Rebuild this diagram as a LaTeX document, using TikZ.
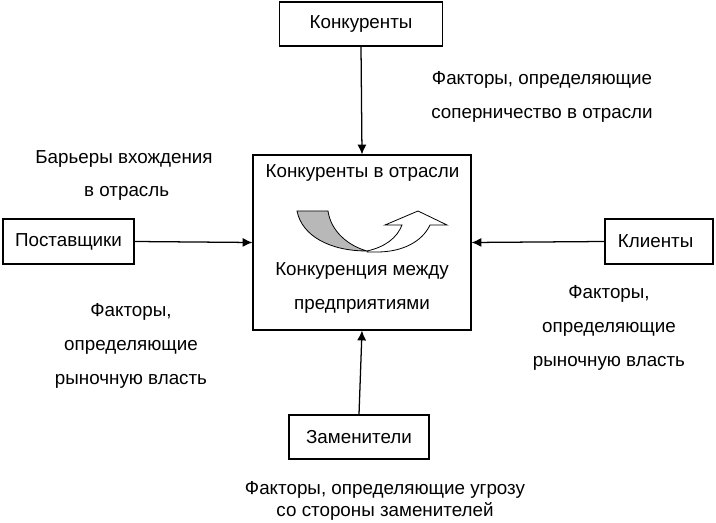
\documentclass[tikz,border=0pt]{standalone}
\usepackage{fontspec}
\setmainfont{Liberation Sans}
\usepackage{xcolor}
\usetikzlibrary{
  positioning,
  arrows.meta
}
\definecolor{swoopgray}{gray}{0.72}
\tikzset{
  >=Latex,
  flowarrow/.style={-{Latex[length=2.6mm,width=2.4mm]},line width=0.95pt},
  force/.style={rectangle,draw,line width=0.8pt,fill=white,align=center,inner sep=0pt},
  note/.style={align=center,inner sep=0pt,font=\fontsize{14.1}{25.2}\selectfont},
  noteclose/.style={align=center,inner sep=0pt,font=\fontsize{14.1}{16}\selectfont},
  swoop/.style={draw,line width=0.6pt,line join=miter}
}
\begin{document}
\begin{tikzpicture}[x=0.75pt,y=-0.75pt,font=\fontsize{14.1}{17}\selectfont]
    \useasboundingbox (0,0) rectangle (716,523);

    \node[force,minimum width=122.25pt,minimum height=33pt] (rivals) at (361,24) {Конкуренты};
    \node[force,minimum width=163.5pt,minimum height=131.25pt] (industry) at (362,242.5) {};
    \node[force,minimum width=98.25pt,minimum height=33.75pt] (suppliers) at (68.5,241.5) {Поставщики};
    \node[force,minimum width=81pt,minimum height=33.75pt] (clients) at (659,241.5) {Клиенты\hspace*{5pt}};
    \node[force,minimum width=105pt,minimum height=33pt] (substitutes) at (359,437) {Заменители};

    \draw[flowarrow] (rivals.south) -- (industry.north);
    \draw[flowarrow] (suppliers.east) -- (industry.west);
    \draw[flowarrow] (clients.west) -- (industry.east);
    \draw[flowarrow] (substitutes.north) -- (industry.south);

    % curved arrow inside the central box
    \draw[swoop,fill=swoopgray] (297,211) -- (328,211)
        .. controls (331,232) and (349,246) .. (367,251)
        .. controls (330,251) and (302,236) .. (297,211) -- cycle;
    \draw[swoop,fill=white] (367,251)
        .. controls (385,247) and (397,238) .. (402,225)
        -- (385,225) -- (418,211) -- (447,225) -- (430,225)
        .. controls (422,242) and (402,252) .. (377,252)
        -- (367,252) -- cycle;

    \node[inner sep=0pt] (industrytitle) at (362.5,173) {Конкуренты в отрасли};
    \node[note] (rivalry) at (362,288) {Конкуренция между\\предприятиями};

    \node[note] (rivalrynote) at (542,97) {Факторы, определяющие\\соперничество в отрасли};
    \node[note] (barriers) at (124,175.5) {Барьеры вхождения\\в отрасль\hspace*{-4pt}};
    \node[note] (supplierpower) at (131,346) {Факторы,\\определяющие\\рыночную власть};
    \node[note] (clientpower) at (609,328) {Факторы,\\определяющие\\рыночную власть};
    \node[noteclose] (threat) at (385,501) {Факторы, определяющие угрозу\\со стороны заменителей};
\end{tikzpicture}
\end{document}
